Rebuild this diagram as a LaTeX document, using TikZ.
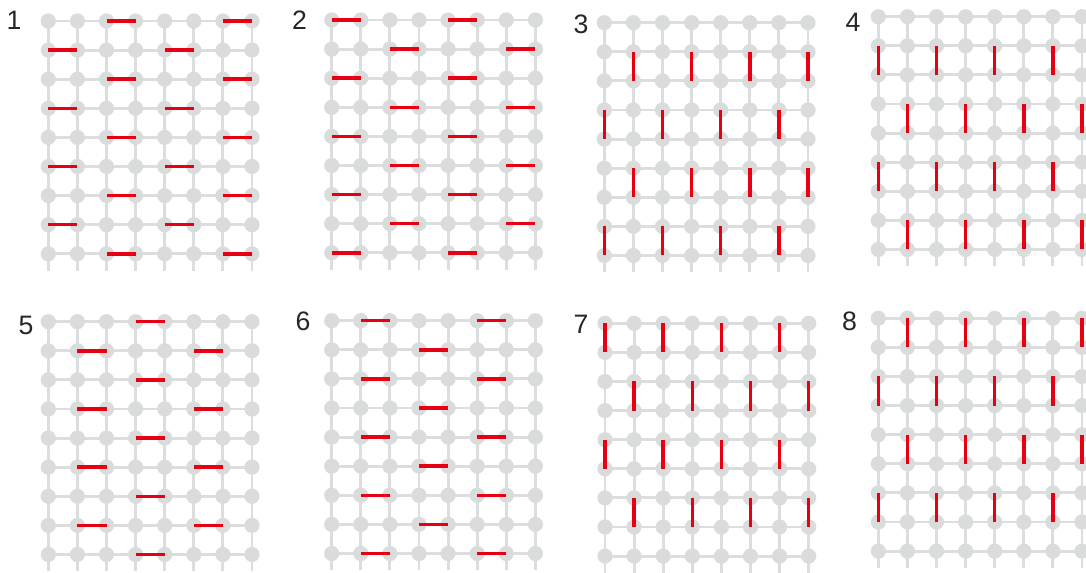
\documentclass[tikz,border=0pt]{standalone}
\usepackage{fontspec}
\setmainfont{Liberation Sans}
\definecolor{gridgray}{RGB}{220,221,221}
\definecolor{dotgray}{RGB}{218,219,219}
\definecolor{barred}{RGB}{230,0,18}
\tikzset{
  gridline/.style={draw=gridgray, line width=2.2pt},
  gdot/.style={fill=dotgray},
  redbar/.style={draw=barred, line width=2.6pt},
  plabel/.style={inner sep=0pt, font=\fontsize{20}{20}\selectfont, text=black!85}
}
\newcommand\mypanel[2]{%
  \begin{scope}[shift={(#1,#2)}]
    \foreach \r in {0,...,8} \draw[gridline] (0,\r*29.1) -- (7*29.1,\r*29.1);
    \foreach \c in {0,...,7} \draw[gridline] (\c*29.1,0) -- (\c*29.1,8*29.1+17);
    \foreach \r in {0,...,8} \foreach \c in {0,...,7} \fill[gdot] (\c*29.1,\r*29.1) circle[radius=5.7pt];
  \end{scope}}
% horizontal bars: #3 cols on even rows, #4 cols on odd rows
\newcommand\myhbars[4]{%
  \begin{scope}[shift={(#1,#2)}]
    \foreach \r in {0,2,4,6,8} \foreach \c in {#3} \draw[redbar] (\c*29.1,\r*29.1) -- (\c*29.1+29.1,\r*29.1);
    \foreach \r in {1,3,5,7} \foreach \c in {#4} \draw[redbar] (\c*29.1,\r*29.1) -- (\c*29.1+29.1,\r*29.1);
  \end{scope}}
% vertical bars: #3 start rows with cols #4, #5 start rows with cols #6
\newcommand\myvbars[6]{%
  \begin{scope}[shift={(#1,#2)}]
    \foreach \r in {#3} \foreach \c in {#4} \draw[redbar] (\c*29.1,\r*29.1) -- (\c*29.1,\r*29.1+29.1);
    \foreach \r in {#5} \foreach \c in {#6} \draw[redbar] (\c*29.1,\r*29.1) -- (\c*29.1,\r*29.1+29.1);
  \end{scope}}
\begin{document}
\begin{tikzpicture}[x=0.75pt,y=-0.75pt]
\useasboundingbox (0,0) rectangle (1086,573);
\fill[white] (0,0) rectangle (1086,573);
% panels
\mypanel{48.3}{21}
\mypanel{331.7}{20}
\mypanel{604.3}{22.7}
\mypanel{878.3}{16.7}
\mypanel{48.3}{321.7}
\mypanel{331.7}{320.7}
\mypanel{605}{323.3}
\mypanel{878.3}{318.3}
% red bars
\myhbars{48.3}{21}{2,6}{0,4}
\myhbars{331.7}{20}{0,4}{2,6}
\myvbars{604.3}{22.7}{1,5}{1,3,5,7}{3,7}{0,2,4,6}
\myvbars{878.3}{16.7}{1,5}{0,2,4,6}{3,7}{1,3,5,7}
\myhbars{48.3}{321.7}{3}{1,5}
\myhbars{331.7}{320.7}{1,5}{3}
\myvbars{605}{323.3}{0,4}{0,2,4,6}{2,6}{1,3,5,7}
\myvbars{878.3}{318.3}{0,4}{1,3,5,7}{2,6}{0,2,4,6}
% labels
\node[plabel] (l1) at (14,20) {1};
\node[plabel] (l2) at (299.5,20) {2};
\node[plabel] (l3) at (581,24) {3};
\node[plabel] (l4) at (853,22) {4};
\node[plabel] (l5) at (26,325) {5};
\node[plabel] (l6) at (303,321) {6};
\node[plabel] (l7) at (581,324) {7};
\node[plabel] (l8) at (849.5,321) {8};
\end{tikzpicture}
\end{document}
